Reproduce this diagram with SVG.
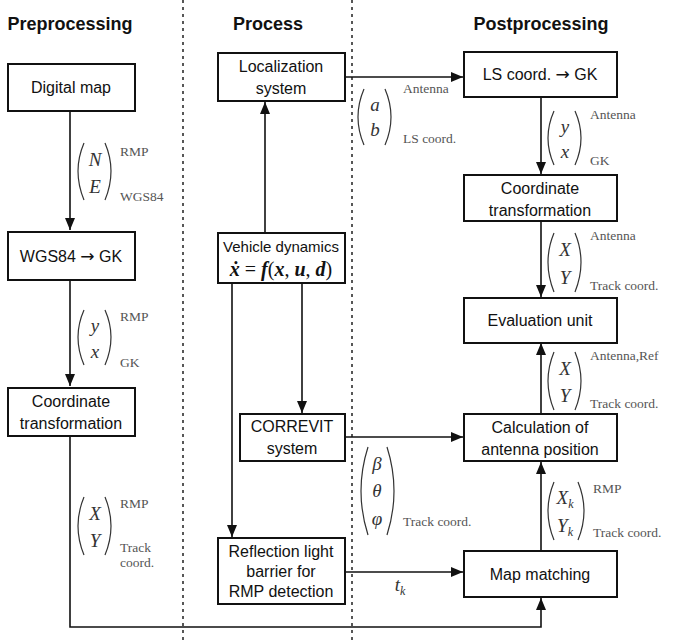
<svg xmlns="http://www.w3.org/2000/svg" width="674" height="644" viewBox="0 0 674 644">
<defs>
<marker id="ah" viewBox="0 0 12 10" refX="12" refY="5" markerWidth="12" markerHeight="10" markerUnits="userSpaceOnUse" orient="auto"><path d="M0,0 L12,5 L0,10 z" fill="#111"/></marker>
<style>
.box{fill:#fff;stroke:#111;stroke-width:2}
.t{font-family:"Liberation Sans",Arial,sans-serif;font-size:16px;fill:#111;text-anchor:middle}
.t.sm{font-size:15px}
.h{font-family:"Liberation Sans",Arial,sans-serif;font-size:18px;font-weight:bold;fill:#111;text-anchor:middle}
.c{fill:none;stroke:#111;stroke-width:1.6}
.dash{stroke:#111;stroke-width:1.4;stroke-dasharray:3,4}
.m{font-family:"Liberation Serif","Times New Roman",serif;font-style:italic;font-size:19px;fill:#333;text-anchor:middle}
.s{font-family:"Liberation Serif","Times New Roman",serif;font-size:13.5px;fill:#555}
.p{fill:none;stroke:#333;stroke-width:1.2}
.mb{font-family:"Liberation Serif","Times New Roman",serif;font-size:20px;fill:#111}
.bi{font-weight:bold;font-style:italic}
.ar{font-family:"DejaVu Sans",sans-serif;font-size:17px}
</style>
</defs>
<rect width="674" height="644" fill="#fff"/>
<g id="lanes">
<line class="dash" x1="183" y1="0" x2="183" y2="644"/>
<line class="dash" x1="352" y1="0" x2="352" y2="644"/>
<text class="h" x="70" y="30">Preprocessing</text>
<text class="h" x="268" y="30">Process</text>
<text class="h" x="541" y="30">Postprocessing</text>
</g>
<g id="connectors">
<line class="c" x1="70" y1="111" x2="70" y2="230" marker-end="url(#ah)"/>
<line class="c" x1="70" y1="280" x2="70" y2="386" marker-end="url(#ah)"/>
<polyline class="c" points="70,436 70,627 541,627 541,598" marker-end="url(#ah)"/>
<line class="c" x1="265" y1="232" x2="265" y2="102" marker-end="url(#ah)"/>
<line class="c" x1="232" y1="283" x2="232" y2="537" marker-end="url(#ah)"/>
<line class="c" x1="302" y1="283" x2="302" y2="413" marker-end="url(#ah)"/>
<line class="c" x1="345" y1="77" x2="463" y2="77" marker-end="url(#ah)"/>
<line class="c" x1="541" y1="97" x2="541" y2="174" marker-end="url(#ah)"/>
<line class="c" x1="541" y1="221" x2="541" y2="297" marker-end="url(#ah)"/>
<line class="c" x1="541" y1="414" x2="541" y2="343" marker-end="url(#ah)"/>
<line class="c" x1="541" y1="551" x2="541" y2="462" marker-end="url(#ah)"/>
<line class="c" x1="345" y1="437" x2="463" y2="437" marker-end="url(#ah)"/>
<line class="c" x1="345" y1="572" x2="463" y2="572" marker-end="url(#ah)"/>
</g>
<g id="n-digital-map"><rect class="box" x="8" y="64" width="127" height="47"/><text class="t" x="71" y="93">Digital map</text></g>
<g id="n-wgs84"><rect class="box" x="8" y="232" width="127" height="48"/><text class="t" x="71" y="262">WGS84 <tspan class="ar">→</tspan> GK</text></g>
<g id="n-coord-left"><rect class="box" x="8" y="388" width="127" height="48"/><text class="t" x="71" y="407">Coordinate</text><text class="t" x="71" y="429">transformation</text></g>
<g id="n-localization"><rect class="box" x="218" y="53" width="127" height="48"/><text class="t" x="281" y="72">Localization</text><text class="t" x="281" y="94">system</text></g>
<g id="n-vehicle"><rect class="box" x="218" y="233" width="127" height="50"/><text class="t sm" x="281" y="252">Vehicle dynamics</text>
<text class="mb" x="281" y="276" text-anchor="middle"><tspan class="bi">ẋ</tspan> = <tspan class="bi">f</tspan>(<tspan class="bi">x</tspan>, <tspan class="bi">u</tspan>, <tspan class="bi">d</tspan>)</text></g>
<g id="n-correvit"><rect class="box" x="240" y="414" width="105" height="47"/><text class="t" x="292" y="432">CORREVIT</text><text class="t" x="292" y="454">system</text></g>
<g id="n-reflection"><rect class="box" x="218" y="538" width="127" height="66"/><text class="t" x="281" y="557">Reflection light</text><text class="t" x="281" y="577">barrier for</text><text class="t" x="281" y="597">RMP detection</text></g>
<g id="n-ls"><rect class="box" x="464" y="52" width="153" height="45"/><text class="t" x="540" y="80">LS coord. <tspan class="ar">→</tspan> GK</text></g>
<g id="n-coord-right"><rect class="box" x="464" y="175" width="153" height="46"/><text class="t" x="540" y="194">Coordinate</text><text class="t" x="540" y="216">transformation</text></g>
<g id="n-eval"><rect class="box" x="464" y="298" width="153" height="45"/><text class="t" x="540" y="326">Evaluation unit</text></g>
<g id="n-calc"><rect class="box" x="464" y="414" width="153" height="47"/><text class="t" x="540" y="433">Calculation of</text><text class="t" x="540" y="455">antenna position</text></g>
<g id="n-map"><rect class="box" x="464" y="551" width="153" height="46"/><text class="t" x="540" y="580">Map matching</text></g>
<g id="labels">
<path class="p" d="M84,143 Q72,171 84,200"/><path class="p" d="M105,143 Q117,171 105,200"/>
<text class="m" x="95" y="166">N</text><text class="m" x="95" y="193">E</text>
<text class="s" x="120" y="156">RMP</text><text class="s" x="120" y="201">WGS84</text>
<path class="p" d="M84,310 Q72,337 84,365"/><path class="p" d="M105,310 Q117,337 105,365"/>
<text class="m" x="95" y="332">y</text><text class="m" x="95" y="358">x</text>
<text class="s" x="120" y="321">RMP</text><text class="s" x="120" y="367">GK</text>
<path class="p" d="M84,497 Q72,526 84,555"/><path class="p" d="M105,497 Q117,526 105,555"/>
<text class="m" x="95" y="520">X</text><text class="m" x="95" y="547">Y</text>
<text class="s" x="120" y="508">RMP</text><text class="s" x="120" y="552">Track</text><text class="s" x="120" y="567">coord.</text>
<path class="p" d="M364,89 Q352,117 364,145"/><path class="p" d="M385,89 Q397,117 385,145"/>
<text class="m" x="375" y="111">a</text><text class="m" x="375" y="136">b</text>
<text class="s" x="403" y="93">Antenna</text><text class="s" x="403" y="143">LS coord.</text>
<path class="p" d="M554,111 Q542,138 554,165"/><path class="p" d="M575,111 Q587,138 575,165"/>
<text class="m" x="565" y="133">y</text><text class="m" x="565" y="158">x</text>
<text class="s" x="590" y="119">Antenna</text><text class="s" x="590" y="165">GK</text>
<path class="p" d="M554,233 Q542,262 554,292"/><path class="p" d="M575,233 Q587,262 575,292"/>
<text class="m" x="565" y="256">X</text><text class="m" x="565" y="284">Y</text>
<text class="s" x="590" y="240">Antenna</text><text class="s" x="590" y="290">Track coord.</text>
<path class="p" d="M554,352 Q542,381 554,410"/><path class="p" d="M575,352 Q587,381 575,410"/>
<text class="m" x="565" y="375">X</text><text class="m" x="565" y="402">Y</text>
<text class="s" x="590" y="360">Antenna,Ref</text><text class="s" x="590" y="408">Track coord.</text>
<path class="p" d="M368,447 Q354,491 368,535"/><path class="p" d="M387,447 Q401,491 387,535"/>
<text class="m" x="377" y="470">β</text><text class="m" x="377" y="497">θ</text><text class="m" x="377" y="525">φ</text>
<text class="s" x="403" y="526">Track coord.</text>
<path class="p" d="M554,482 Q542,511 554,540"/><path class="p" d="M578,482 Q590,511 578,540"/>
<text class="m" x="565" y="504">X<tspan font-size="12" dy="4">k</tspan></text><text class="m" x="565" y="532">Y<tspan font-size="12" dy="4">k</tspan></text>
<text class="s" x="593" y="493">RMP</text><text class="s" x="593" y="537">Track coord.</text>
<text class="m" x="400" y="591">t<tspan font-size="12" dy="4">k</tspan></text>
</g>
</svg>
